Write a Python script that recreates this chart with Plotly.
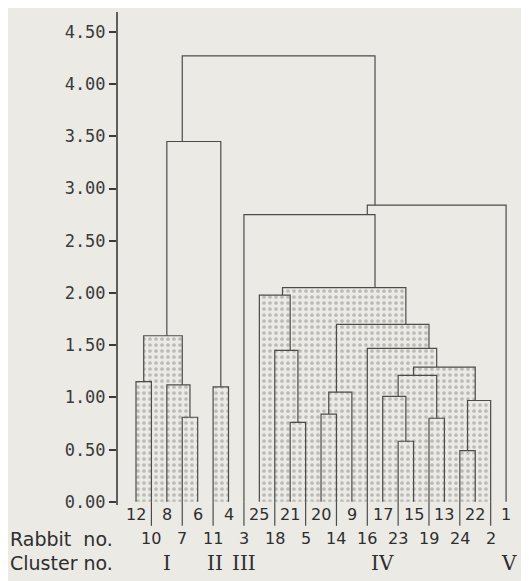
import plotly.graph_objects as go

# ---------------- data ----------------
leaf_order = [12, 10, 8, 7, 6, 11, 4, 3, 25, 18, 21, 5, 20, 14, 9, 16, 17, 23, 15, 19, 13, 24, 22, 2, 1]

# merges: children are rabbit numbers (int) or earlier merges ("m<k>")
merge_left = [12, 7, 8, "m0", 11, "m3", 21, 18, 25, 20, "m9", 23, 17, 19, "m12", 24, "m15", "m14", 16, "m10", "m8", 3, "m21", "m5"]
merge_right = [10, 6, "m1", "m2", 4, "m4", 5, "m6", "m7", 14, 9, 15, "m11", 13, "m13", 22, 2, "m16", "m17", "m18", "m19", "m20", 1, "m22"]
merge_height = [1.15, 0.81, 1.12, 1.59, 1.10, 3.45, 0.76, 1.45, 1.98, 0.84, 1.05, 0.58, 1.01, 0.80, 1.21,
                0.49, 0.97, 1.29, 1.47, 1.70, 2.05, 2.75, 2.84, 4.27]

y_ticks = [0.0, 0.5, 1.0, 1.5, 2.0, 2.5, 3.0, 3.5, 4.0, 4.5]

cluster_names = ["I", "II", "III", "IV", "V"]
cluster_members = [[12, 10, 8, 7, 6], [11, 4], [3], [25, 18, 21, 5, 20, 14, 9, 16, 17, 23, 15, 19, 13, 24, 22, 2], [1]]

# ---------------- style ----------------
PAPER = "#ebeae5"
LINE = "#4c4c4c"
TEXT = "#2e2e2e"
STIPPLE_LIMIT = 2.3
CLUSTER_NUDGE_PX = {"I": 0, "II": -6, "III": 0, "IV": 7, "V": 3}
ROW1_Y, ROW2_Y, ROW3_Y = -0.125, -0.352, -0.59
FIG_W, FIG_H, M_L, M_T = 513, 573, 109, 4
PX_X, PX_Y = 15.42, 104.44
PLOT_W, PLOT_H = FIG_W - M_L, FIG_H - M_T

pos = {r: i for i, r in enumerate(leaf_order)}
node_x, node_h, node_members = {}, {}, {}
for r in leaf_order:
    node_x[r] = pos[r]
    node_h[r] = 0.0
    node_members[r] = [pos[r]]

fill_x, fill_y, line_x, line_y = [], [], [], []
for k, (a, b, h) in enumerate(zip(merge_left, merge_right, merge_height)):
    xa, xb = node_x[a], node_x[b]
    key = f"m{k}"
    node_members[key] = node_members[a] + node_members[b]
    node_x[key] = sum(node_members[key]) / len(node_members[key])
    node_h[key] = h
    if h < STIPPLE_LIMIT:
        fill_x += [xa, xa, xb, xb, xa, None]
        fill_y += [0, h, h, 0, 0, None]
    line_x += [xa, xa, xb, xb, None]
    line_y += [node_h[a], h, h, node_h[b], None]

# lead lines of the lower label row
stem_x, stem_y = [], []
for i, r in enumerate(leaf_order):
    if i % 2 == 1:
        stem_x += [i, i, None]
        stem_y += [0, -0.23, None]

fig = go.Figure()
fig.add_trace(go.Scatter(
    x=fill_x, y=fill_y, mode="lines", fill="toself",
    line=dict(width=0),
    fillcolor=PAPER,
    fillpattern=dict(shape=".", fgcolor="#8a8a87", bgcolor=PAPER, size=6, solidity=0.3),
    hoverinfo="skip", showlegend=False))
fig.add_trace(go.Scatter(
    x=line_x, y=line_y, mode="lines", line=dict(color=LINE, width=1.2),
    hoverinfo="skip", showlegend=False))
fig.add_trace(go.Scatter(
    x=stem_x, y=stem_y, mode="lines", line=dict(color=LINE, width=1.2),
    hoverinfo="skip", showlegend=False))

annotations = []
for i, r in enumerate(leaf_order):
    annotations.append(dict(
        x=i, y=ROW1_Y if i % 2 == 0 else ROW2_Y, xref="x", yref="y",
        text=str(r), showarrow=False, xanchor="center", yanchor="middle",
        font=dict(family="DejaVu Sans", size=16, color=TEXT)))

for name, members in zip(cluster_names, cluster_members):
    cx = sum(pos[m] for m in members) / len(members)
    annotations.append(dict(
        x=cx, y=ROW3_Y, xref="x", yref="y", text=name, showarrow=False,
        xanchor="center", yanchor="middle", xshift=CLUSTER_NUDGE_PX[name],
        font=dict(family="DejaVu Serif", size=20, color=TEXT)))

annotations.append(dict(x=-M_L / PLOT_W, y=ROW2_Y, xref="paper", yref="y", text="Rabbit\u00a0 no.",
                        showarrow=False, xanchor="left", yanchor="middle",
                        font=dict(family="DejaVu Sans", size=19, color=TEXT)))
annotations.append(dict(x=-M_L / PLOT_W, y=ROW3_Y, xref="paper", yref="y", text="Cluster no.",
                        showarrow=False, xanchor="left", yanchor="middle",
                        font=dict(family="DejaVu Sans", size=19, color=TEXT)))

fig.update_layout(
    width=FIG_W, height=FIG_H,
    margin=dict(l=M_L, r=0, t=M_T, b=0),
    paper_bgcolor=PAPER, plot_bgcolor=PAPER,
    annotations=annotations,
    shapes=[dict(type="line", xref="paper", yref="y", x0=0, x1=0, y0=-0.03, y1=4.69,
                 line=dict(color="#3a3a3a", width=1.6))],
    xaxis=dict(range=[-1.232, -1.232 + PLOT_W / PX_X], visible=False, fixedrange=True),
    yaxis=dict(range=[4.69 - PLOT_H / PX_Y, 4.69], showgrid=False, zeroline=False, showline=False,
               tickmode="array", tickvals=y_ticks, ticktext=[f"{v:.2f}" for v in y_ticks],
               ticks="outside", ticklen=7, tickwidth=1.5, tickcolor="#3a3a3a",
               tickfont=dict(family="DejaVu Sans Mono", size=17, color="#3a3a3a"),
               fixedrange=True),
)

fig.write_html("out.html")
